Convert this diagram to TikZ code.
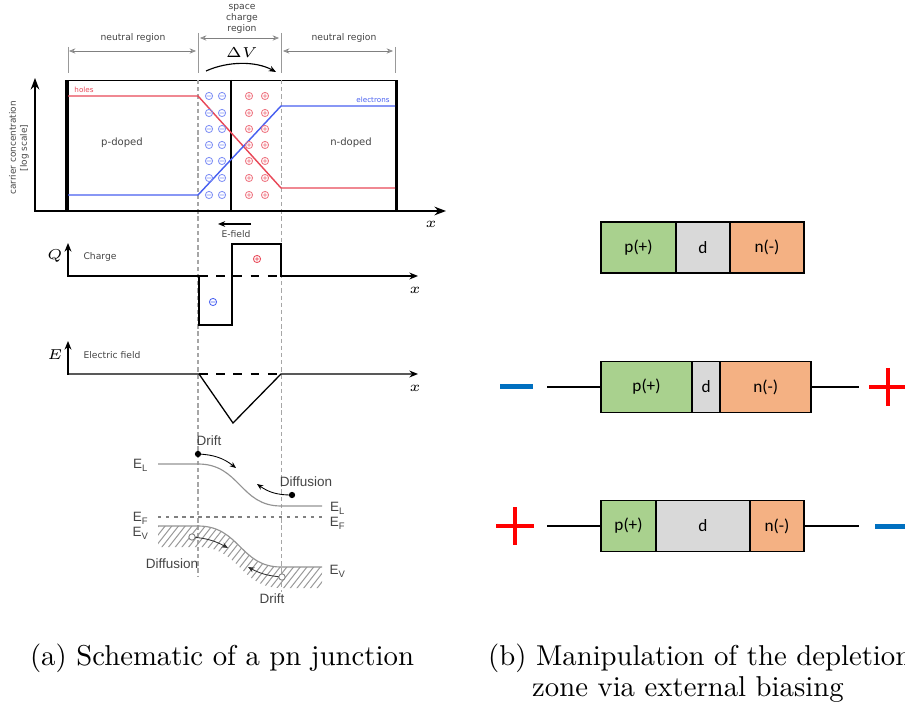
\documentclass[tikz,border=0pt]{standalone}
\usepackage{fontspec}
\newfontfamily\dejavu{DejaVu Sans}
\newfontfamily\arialike{Liberation Sans}
\newfontfamily\calib{Carlito}
\usetikzlibrary{arrows.meta,positioning}
\newlength\pxu
\setlength\pxu{0.348pt}
\definecolor{pgreen}{HTML}{A9D18E}
\definecolor{dgray}{HTML}{D9D9D9}
\definecolor{norange}{HTML}{F4B183}
\definecolor{holecol}{RGB}{232,72,88}
\definecolor{eleccol}{RGB}{72,96,240}
\definecolor{ink}{HTML}{444444}
\definecolor{minusblue}{HTML}{0070C0}
\tikzset{
  negion/.pic={\draw[line width=0.3pt] (0,0) circle[radius=1.25pt] (-2.2,0) -- (2.2,0);},
  posion/.pic={\draw[line width=0.3pt] (0,0) circle[radius=1.25pt] (-2.2,0) -- (2.2,0) (0,-2.2) -- (0,2.2);}
}
\begin{document}
\begin{tikzpicture}[
  x=0.348pt, y=-0.348pt,
  lab/.style={font=\dejavu\fontsize{3.2}{3.8}\selectfont, text=ink, inner sep=0pt},
  tiny/.style={font=\dejavu\fontsize{2.5}{3}\selectfont, inner sep=0pt},
  band/.style={font=\arialike\fontsize{4.7}{5.6}\selectfont, text=ink, inner sep=0pt},
  mlab/.style={font=\fontsize{4.5}{5.4}\selectfont, inner sep=0pt},
  guide/.style={gray!70, dash pattern=on 1.5pt off 1pt, line width=0.35pt},
  ext/.style={gray!80, line width=0.25pt},
  dim/.style={gray, line width=0.25pt, {Stealth[length=2.2pt,width=1.8pt,open]}-{Stealth[length=2.2pt,width=1.8pt,open]}},
  axis/.style={line width=0.45pt, -{Stealth[length=3pt,width=2.4pt]}},
  level/.style={gray!85, line width=0.4pt},
  move/.style={line width=0.3pt, -{Stealth[length=2.2pt,width=1.8pt]}},
  seg/.style={draw, line width=0.55pt, outer sep=0pt, minimum height=51\pxu, font=\calib\fontsize{6}{7}\selectfont},
  pseg/.style={seg, fill=pgreen},
  dseg/.style={seg, fill=dgray},
  nseg/.style={seg, fill=norange},
  wire/.style={line width=0.4pt},
  plussign/.style={minimum size=38\pxu, inner sep=0pt, path picture={
    \draw[red, line width=1.4pt] (path picture bounding box.west) -- (path picture bounding box.east)
      (path picture bounding box.north) -- (path picture bounding box.south);}},
  minussign/.style={minimum width=33\pxu, minimum height=5\pxu, inner sep=0pt, fill=minusblue}
]
\useasboundingbox (0,0) rectangle (905,710);
\clip (0,0) rectangle (905,710);

% region labels and dimension lines
\node[lab, align=center] (scr) at (242,19) {space\\charge\\region};
\node[lab] (nrl) at (133,38) {neutral region};
\node[lab] (nrr) at (344,38) {neutral region};
\draw[ext] (68,47) -- (68,73) (198,33) -- (198,73) (281,33) -- (281,73) (395,47) -- (395,73);
\draw[dim] (69,51) -- (196,51);
\draw[dim] (200,38) -- (279,38);
\draw[dim] (283,51) -- (393,51);
\node[mlab] (dv) at (242,53) {$\Delta V$};
\draw[line width=0.4pt, -{Stealth[length=2.5pt,width=2pt]}] (206,71) .. controls (228,61) and (256,61) .. (276,72);

% carrier concentration
\draw[line width=0.3pt] (66,80) -- (397,80);
\fill (65,80) rectangle (68.5,211);
\fill (394.5,80) rectangle (398,211);
\draw[line width=0.4pt] (231,80) -- (231,211);
\draw[guide] (198,80) -- (198,577);
\draw[guide] (281,80) -- (281,592);
\draw[line width=0.6pt, {Stealth[length=4pt,width=3pt]}-{Stealth[length=4pt,width=3pt]}] (35,78) -- (35,211) -- (446,211);
\node[mlab] (xa) at (431,224) {$x$};
\node[lab, rotate=90, align=center, font=\dejavu\fontsize{3.1}{3.8}\selectfont] (ylab) at (19,148) {carrier concentration\\{[log scale]}};
\draw[holecol, line width=0.5pt] (68,96) -- (198,96) -- (281,188) -- (395,188);
\draw[eleccol, line width=0.5pt] (68,195) -- (198,195) -- (281,106) -- (395,106);
\node[tiny, text=holecol] (hl) at (84,90) {holes};
\node[tiny, text=eleccol] (el) at (373,100) {electrons};
\node[lab, font=\dejavu\fontsize{3.5}{4.2}\selectfont] (pd) at (122,143) {p-doped};
\node[lab, font=\dejavu\fontsize{3.5}{4.2}\selectfont] (nd) at (351,143) {n-doped};
\foreach \y in {96,113,129,145,161,178,195}{
  \pic[eleccol!70] at (209,\y) {negion};
  \pic[eleccol!70] at (222,\y) {negion};
  \pic[holecol!75] at (249,\y) {posion};
  \pic[holecol!75] at (265,\y) {posion};
}
\draw[line width=0.5pt, -{Stealth[length=2.5pt,width=2pt]}] (251,224) -- (218,224);
\node[lab] (ef) at (236,234) {E-field};

% charge
\draw[axis] (68,277) -- (68,243);
\node[mlab] (q) at (55,256) {$Q$};
\node[lab] (chg) at (100,257) {Charge};
\draw[axis] (68,276) -- (199,276) -- (199,325) -- (232,325) -- (232,244) -- (281,244) -- (281,276) -- (418,276);
\draw[line width=0.45pt, dashed] (199,276) -- (281,276);
\node[mlab] (xq) at (415,290) {$x$};
\pic[eleccol] at (213,302) {negion};
\pic[holecol] at (257,259) {posion};

% electric field
\draw[axis] (68,375) -- (68,341);
\node[mlab] (e) at (55,355) {$E$};
\node[lab] (efl) at (112,355) {Electric field};
\draw[axis] (68,374) -- (199,374) -- (233,423) -- (281,374) -- (418,374);
\draw[line width=0.45pt, dashed] (199,374) -- (281,374);
\node[mlab] (xe) at (415,388) {$x$};

% band diagram
\begin{scope}
  \clip (158,526) -- (198,526) .. controls (240,526) and (240,567) .. (281,567) -- (322,567)
    -- (322,588) -- (281,588) .. controls (240,588) and (240,547) .. (198,547) -- (158,547) -- cycle;
  \foreach \i in {0,...,36}
    \draw[gray!80, line width=0.35pt] (100+\i*6.7,600) -- ++(60,-76);
\end{scope}
\draw[level] (158,464) -- (198,464) .. controls (240,464) and (240,506) .. (281,506) -- (322,506);
\draw[level] (158,526) -- (198,526) .. controls (240,526) and (240,567) .. (281,567) -- (322,567);
\draw[gray, line width=0.4pt, dash pattern=on 1.2pt off 1.6pt] (158,517) -- (322,517);
\node[band] (ell) at (141,465) {E\textsubscript{L}};
\node[band] (elr) at (338,508) {E\textsubscript{L}};
\node[band] (efl1) at (141,518) {E\textsubscript{F}};
\node[band] (efr) at (338,523) {E\textsubscript{F}};
\node[band] (evl) at (141,533) {E\textsubscript{V}};
\node[band] (evr) at (338,571) {E\textsubscript{V}};
\coordinate (dotl) at (198,454);
\coordinate (dotr) at (292,495);
\coordinate (ringl) at (192,537);
\coordinate (ringr) at (282,577);
\coordinate (tipa) at (236,468);
\coordinate (tipb) at (257,484);
\coordinate (tipc) at (228,548);
\coordinate (tipd) at (248,567);
\draw[move] (dotl) to[bend left=18] (tipa);
\draw[move] (dotr) to[bend left=18] (tipb);
\draw[move, gray!40!black] (ringl) to[bend left=12] (tipc);
\draw[move, gray!40!black] (ringr) to[bend left=12] (tipd);
\fill (dotl) circle[radius=1.1pt];
\fill (dotr) circle[radius=1.1pt];
\draw[gray, fill=white, line width=0.3pt] (ringl) circle[radius=1.1pt];
\draw[gray, fill=white, line width=0.3pt] (ringr) circle[radius=1.1pt];
\node[band] (dr1) at (209,441) {Drift};
\node[band] (df1) at (306,482) {Diffusion};
\node[band] (df2) at (172,564) {Diffusion};
\node[band] (dr2) at (272,599) {Drift};

% depletion zone boxes
\node[pseg, minimum width=75\pxu, anchor=west] (p1) at (601,247.5) {p(+)};
\node[dseg, minimum width=54\pxu, right=0pt of p1] (d1) {d};
\node[nseg, minimum width=74\pxu, right=0pt of d1] (n1) {n(-)};

\node[pseg, minimum width=91\pxu, anchor=west] (p2) at (601,387) {p(+)};
\node[dseg, minimum width=21\pxu, right=0pt of p2] (d2) {d};
\node[nseg, minimum width=91\pxu, right=0pt of d2] (n2) {n(-)};
\coordinate (w2l) at (547,387);
\coordinate (w2r) at (859,387);
\draw[wire] (w2l) -- (p2.west);
\draw[wire] (n2.east) -- (w2r);
\node[minussign] (neg2) at (516,387) {};
\node[plussign] (pos2) at (888,387) {};

\node[pseg, minimum width=55\pxu, anchor=west] (p3) at (601,526) {p(+)};
\node[dseg, minimum width=94\pxu, right=0pt of p3] (d3) {d};
\node[nseg, minimum width=54\pxu, right=0pt of d3] (n3) {n(-)};
\coordinate (w3l) at (547,526);
\coordinate (w3r) at (859,526);
\draw[wire] (w3l) -- (p3.west);
\draw[wire] (n3.east) -- (w3r);
\node[plussign] (pos3) at (515,526) {};
\node[minussign] (neg3) at (891,526) {};

% captions
\node[anchor=base] (capa) at (222,665) {(a) Schematic of a pn junction};
\node[anchor=base west] (capb) at (478,665) {(b) Manipulation of the depletion};
\node[anchor=base west] (capc) at (522,696) {zone via external biasing};
\end{tikzpicture}
\end{document}
